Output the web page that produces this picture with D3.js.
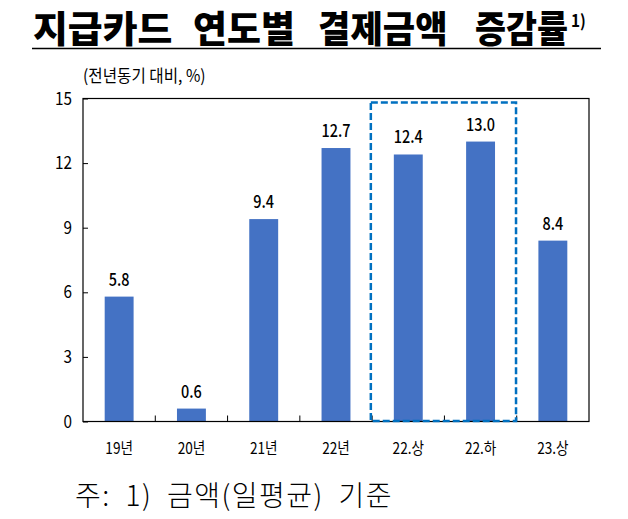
<!DOCTYPE html>
<html><head><meta charset="utf-8">
<script src="https://cdn.jsdelivr.net/npm/d3@7/dist/d3.min.js"></script>
<style>body{margin:0;background:#fff}svg{display:block}</style>
</head><body>
<script>
const categories = ["19년","20년","21년","22년","22.상","22.하","23.상"];
const values = [5.8, 0.6, 9.4, 12.7, 12.4, 13.0, 8.4];
const yTicks = [0, 3, 6, 9, 12, 15];
const highlighted = ["22.상","22.하"];
const titleWords = ["지급카드", "연도별", "결제금액", "증감률"];
const titleNote = "1)";
const unitText = "(전년동기 대비, %)";
const noteText = "주: 1) 금액(일평균) 기준";

const W = 628, H = 519;
const m = {left: 83, right: 589, top: 98.5, bottom: 421.5};
const font = "'Noto Sans CJK KR', 'Noto Sans', sans-serif";

const svg = d3.select("body").append("svg").attr("width", W).attr("height", H);
svg.append("rect").attr("width", W).attr("height", H).attr("fill", "#fff");

const x = d3.scaleBand().domain(categories).range([m.left, m.right]).paddingInner(0.6).paddingOuter(0.3);
const xb = d3.scaleBand().domain(categories).range([m.left, m.right]);
const y = d3.scaleLinear().domain([0, 15]).range([m.bottom, m.top]);

function ctext(g, tx, ty, str, size, sx, anchor, weight) {
  const t = g.append("g").attr("transform", `translate(${tx},${ty}) scale(${sx},1)`)
    .append("text").attr("font-family", font).attr("font-size", size)
    .attr("text-anchor", anchor || "middle").attr("fill", "#000").text(str);
  if (weight) t.attr("font-weight", weight);
  return t;
}

// Title: word layout (scaled horizontally to the reference widths)
const titleStarts = [33, 193, 318, 475];
const titleLens = [141, 103, 131, 94];
const tSize = 37;
titleWords.forEach((w, i) => {
  const sx = titleLens[i] / (w.length * tSize * 0.93);
  ctext(svg, titleStarts[i], 43, w, tSize, sx, "start", 900);
});
ctext(svg, 571, 27, titleNote, 17, 0.9, "start", 700);
svg.append("line").attr("x1", 32).attr("x2", 601).attr("y1", 48.5).attr("y2", 48.5)
  .attr("stroke", "#000").attr("stroke-width", 1.5);

// Unit label
ctext(svg, 83, 82, unitText, 17, 0.92, "start");

// Bars
svg.append("g").selectAll("rect").data(categories).join("rect")
  .attr("x", d => x(d)).attr("width", x.bandwidth())
  .attr("y", (d, i) => y(values[i])).attr("height", (d, i) => y(0) - y(values[i]))
  .attr("fill", "#4472C4");

// Value labels
categories.forEach((c, i) => {
  ctext(svg, x(c) + x.bandwidth() / 2, y(values[i]) - 11, values[i].toFixed(1), 17, 0.85, "middle", 500);
});

// Frame
svg.append("rect").attr("x", m.left).attr("y", m.top)
  .attr("width", m.right - m.left).attr("height", m.bottom - m.top)
  .attr("fill", "none").attr("stroke", "#000").attr("stroke-width", 1.2);

// Y axis
const yAxis = svg.append("g").attr("transform", `translate(${m.left},0)`)
  .call(d3.axisLeft(y).tickValues(yTicks).tickSize(-5).tickFormat(""));
yAxis.select(".domain").remove();
yAxis.selectAll("line").attr("stroke", "#000");
yTicks.forEach(v => ctext(svg, 72, y(v) + 6, String(v), 18, 0.85, "end"));

// X axis ticks at band boundaries
const bounds = categories.slice(1).map(c => xb(c));
svg.append("g").selectAll("line").data(bounds).join("line")
  .attr("x1", d => d).attr("x2", d => d).attr("y1", m.bottom).attr("y2", m.bottom - 6)
  .attr("stroke", "#000").attr("stroke-width", 1);
categories.forEach(c => ctext(svg, xb(c) + xb.bandwidth() / 2, 454, c, 16, 0.85, "middle"));

// Highlight dashed box
const hx0 = x(highlighted[0]) - 23, hx1 = x(highlighted[1]) + x.bandwidth() + 21;
svg.append("rect").attr("x", hx0).attr("y", 102.5).attr("width", hx1 - hx0).attr("height", m.bottom - 102.5 - 0.5)
  .attr("fill", "none").attr("stroke", "#0070C0").attr("stroke-width", 2.5)
  .attr("stroke-dasharray", "7,3");

// Footnote
svg.append("text").attr("x", 75).attr("y", 506).attr("font-family", font)
  .attr("font-size", 28).attr("font-weight", 300).attr("letter-spacing", 1.5).attr("word-spacing", 7)
  .attr("fill", "#000").text(noteText);
</script>
</body></html>
